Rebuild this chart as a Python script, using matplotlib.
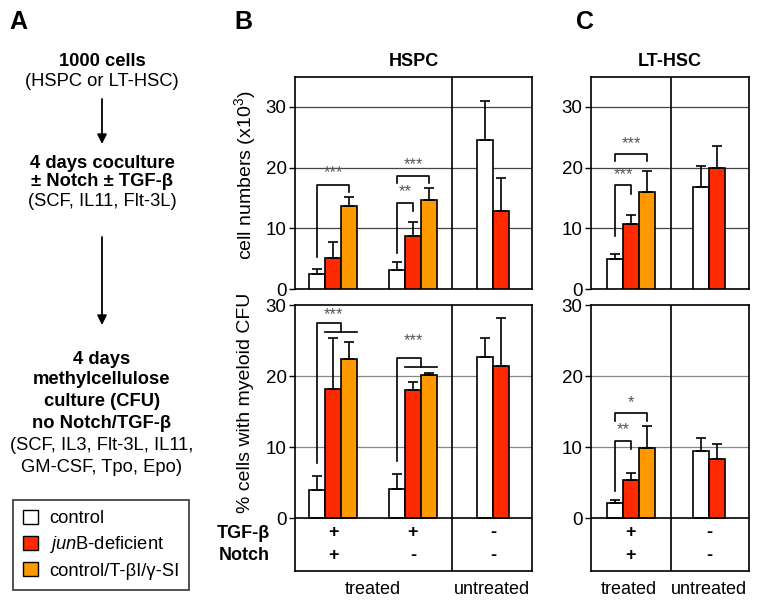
import matplotlib
matplotlib.use('Agg')
import matplotlib.pyplot as plt
from matplotlib.patches import Patch

plt.rcParams['font.family'] = ['Liberation Sans', 'DejaVu Sans']
plt.rcParams['mathtext.fontset'] = 'custom'
plt.rcParams['mathtext.rm'] = 'Liberation Sans'
plt.rcParams['mathtext.it'] = 'Liberation Sans:italic'
plt.rcParams['mathtext.bf'] = 'Liberation Sans:bold'

# ---- data ----
series = ['control', r'$\it{jun}$B-deficient', 'control/T-βI/γ-SI']
colors = ['white', '#ff2a00', '#ff9900']

hspc_cells = [[2.5, 5.1, 13.7], [3.2, 8.75, 14.6], [24.6, 12.9]]
hspc_cells_err = [[0.8, 2.6, 1.4], [1.3, 2.2, 2.1], [6.3, 5.4]]
hspc_cfu = [[3.9, 18.2, 22.4], [4.1, 18.05, 20.2], [22.7, 21.4]]
hspc_cfu_err = [[2.0, 7.2, 2.4], [2.1, 1.15, 0.2], [2.6, 6.7]]

lthsc_cells = [[4.95, 10.7, 15.9], [16.8, 20.0]]
lthsc_cells_err = [[0.85, 1.5, 3.6], [3.4, 3.6]]
lthsc_cfu = [[2.1, 5.3, 9.8], [9.5, 8.25]]
lthsc_cfu_err = [[0.5, 1.1, 3.2], [1.8, 2.15]]

# treatment table
tgf_b = ['+', '+', '-']
notch_b = ['+', '-', '-']
tgf_c = ['+', '-']
notch_c = ['+', '-']

# significance brackets: (group, bar_i, bar_j, y_left, y_top, y_right, label, label_y)
br_b_top = [(0, 0, 2, 5.3, 17.2, 15.9, '***', 19.1),
            (1, 0, 1, 5.9, 14.1, 12.8, '**', 16.1),
            (1, 0, 2, 17.4, 18.65, 17.4, '***', 20.5)]
# forked brackets: (group, y_low, y_top, y_fork, label, label_y)
fork_b_bot = [(0, 7.7, 27.4, 26.2, '***', 28.7),
              (1, 8.0, 22.6, 21.3, '***', 25.0)]
br_c_top = [(0, 0, 1, 8.8, 17.1, 15.6, '***', 18.8),
            (0, 0, 2, 21.0, 22.2, 21.0, '***', 24.0)]
br_c_bot = [(0, 0, 1, 3.8, 10.9, 9.7, '**', 12.4),
            (0, 0, 2, 13.6, 14.8, 13.6, '*', 16.3)]

# ---- layout (pixels) ----
W, H = 764, 607
fig = plt.figure(figsize=(W / 100, H / 100), dpi=100)


def px_axes(left, top, right, bottom):
    return fig.add_axes([left / W, 1 - bottom / H, (right - left) / W, (bottom - top) / H])


LW = 1.2
STAR = dict(ha='center', va='center', fontsize=12, color='#555555')
centers_b = [2.4, 7.375, 12.375]
divider_b = 9.81
centers_c = [2.5, 7.375]
divider_c = 5.0


def bar_x(center, n, i):
    return center + i - (n - 1) / 2


def draw_bars(ax, centers, means, errs):
    for c, m, e in zip(centers, means, errs):
        n = len(m)
        xs = [bar_x(c, n, i) for i in range(n)]
        ax.bar(xs, m, width=1.0, color=colors[:n], edgecolor='black', linewidth=LW,
               yerr=[[0] * n, e], capsize=3.5,
               error_kw=dict(elinewidth=LW, capthick=LW, ecolor='black'), zorder=3)


def draw_brackets(ax, centers, groups, brackets):
    for g, i, j, yl, yt, yr, lab, ly in brackets:
        n = len(groups[g])
        x1, x2 = bar_x(centers[g], n, i), bar_x(centers[g], n, j)
        ax.plot([x1, x1, x2, x2], [yl, yt, yt, yr], color='black', lw=LW, zorder=4)
        ax.text((x1 + x2) / 2, ly, lab, **STAR)


def draw_forks(ax, centers, forks):
    for g, ylow, ytop, yfork, lab, ly in forks:
        c = centers[g]
        x0 = bar_x(c, 3, 0)
        ax.plot([x0, x0, c + 0.5, c + 0.5], [ylow, ytop, ytop, yfork], color='black', lw=LW, zorder=4)
        ax.plot([c - 0.5, c + 1.5], [yfork, yfork], color='black', lw=LW, zorder=4)
        ax.text(c, ly, lab, **STAR)


def style(ax, xmax, ylim, grid, gcolor, divider):
    ax.set_xlim(0, xmax)
    ax.set_ylim(*ylim)
    ax.set_xticks([])
    ax.set_yticks([0, 10, 20, 30])
    ax.tick_params(axis='y', labelsize=13.5, length=4, width=1, pad=2)
    for s in ax.spines.values():
        s.set_linewidth(LW)
    for g in grid:
        ax.axhline(g, color=gcolor, lw=0.9, zorder=1)
    ax.axvline(divider, color='black', lw=LW, zorder=2)


def table(ax, centers, row1, row2):
    for c, t, nt in zip(centers, row1, row2):
        ax.text(c, -2.1, t, ha='center', va='center', fontsize=13, fontweight='bold')
        ax.text(c, -5.3, nt, ha='center', va='center', fontsize=13, fontweight='bold')


# panel B
axb1 = px_axes(295, 77, 532, 289)
style(axb1, 237 / 16, (0, 34.9), [10, 20, 30], '#444444', divider_b)
draw_bars(axb1, centers_b, hspc_cells, hspc_cells_err)
draw_brackets(axb1, centers_b, hspc_cells, br_b_top)

axb2 = px_axes(295, 305, 532, 571)
style(axb2, 237 / 16, (-7.46, 30), [10, 20], '#888888', divider_b)
axb2.axhline(0, color='black', lw=LW, zorder=4)
draw_bars(axb2, centers_b, hspc_cfu, hspc_cfu_err)
draw_forks(axb2, centers_b, fork_b_bot)
table(axb2, centers_b, tgf_b, notch_b)

# panel C
axc1 = px_axes(591, 77, 749, 289)
style(axc1, 158 / 16, (0, 34.9), [10, 20, 30], '#444444', divider_c)
draw_bars(axc1, centers_c, lthsc_cells, lthsc_cells_err)
draw_brackets(axc1, centers_c, lthsc_cells, br_c_top)

axc2 = px_axes(591, 305, 749, 571)
style(axc2, 158 / 16, (-7.46, 30), [10, 20], '#888888', divider_c)
axc2.axhline(0, color='black', lw=LW, zorder=4)
draw_bars(axc2, centers_c, lthsc_cfu, lthsc_cfu_err)
draw_brackets(axc2, centers_c, lthsc_cfu, br_c_bot)
table(axc2, centers_c, tgf_c, notch_c)

# figure-level text (pixel coordinates)
ax0 = fig.add_axes([0, 0, 1, 1], zorder=-1)
ax0.set_xlim(0, W)
ax0.set_ylim(H, 0)
ax0.axis('off')

for x, lab in [(18, 'A'), (243, 'B'), (585, 'C')]:
    ax0.text(x, 22, lab, ha='center', va='center', fontsize=18, fontweight='bold')
ax0.text(414, 62, 'HSPC', ha='center', va='center', fontsize=13, fontweight='bold')
ax0.text(670, 62, 'LT-HSC', ha='center', va='center', fontsize=13, fontweight='bold')

ax0.text(245, 175, r'cell numbers (x10$^3$)', ha='center', va='center', rotation=90, fontsize=14)
ax0.text(245, 403, '% cells with myeloid CFU', ha='center', va='center', rotation=90, fontsize=14)

ax0.text(270, 533, 'TGF-β', ha='right', va='center', fontsize=13, fontweight='bold')
ax0.text(270, 555, 'Notch', ha='right', va='center', fontsize=13, fontweight='bold')
for x, lab in [(373, 'treated'), (492, 'untreated'), (629, 'treated'), (709, 'untreated')]:
    ax0.text(x, 589, lab, ha='center', va='center', fontsize=13)

# flow chart (panel A)
flow = [(62, '1000 cells', 'bold'), (82, '(HSPC or LT-HSC)', 'normal'),
        (163, '4 days coculture', 'bold'), (182, '± Notch ± TGF-β', 'bold'),
        (202, '(SCF, IL11, Flt-3L)', 'normal'),
        (360, '4 days', 'bold'), (380, 'methylcellulose', 'bold'),
        (401, 'culture (CFU)', 'bold'), (423, 'no Notch/TGF-β', 'bold'),
        (445, '(SCF, IL3, Flt-3L, IL11,', 'normal'), (467, 'GM-CSF, Tpo, Epo)', 'normal')]
for y, s, w in flow:
    ax0.text(102, y, s, ha='center', va='center', fontsize=13.2, fontweight=w)
for y0, y1 in [(99, 144), (237, 325)]:
    ax0.annotate('', xy=(102, y1), xytext=(102, y0),
                 arrowprops=dict(arrowstyle='-|>', color='black', lw=1.3, mutation_scale=14,
                                 shrinkA=0, shrinkB=0))

handles = [Patch(facecolor=c, edgecolor='black', linewidth=1) for c in colors]
leg = fig.legend(handles, series, loc='upper left', bbox_to_anchor=(13 / W, 1 - 500 / H),
                 fontsize=13.2, frameon=True, fancybox=False, edgecolor='black',
                 handlelength=0.8, handleheight=0.8, handletextpad=0.6,
                 labelspacing=0.38, borderpad=0.55, borderaxespad=0)
leg.get_frame().set_linewidth(1.2)

fig.savefig('out.png', dpi=100)
